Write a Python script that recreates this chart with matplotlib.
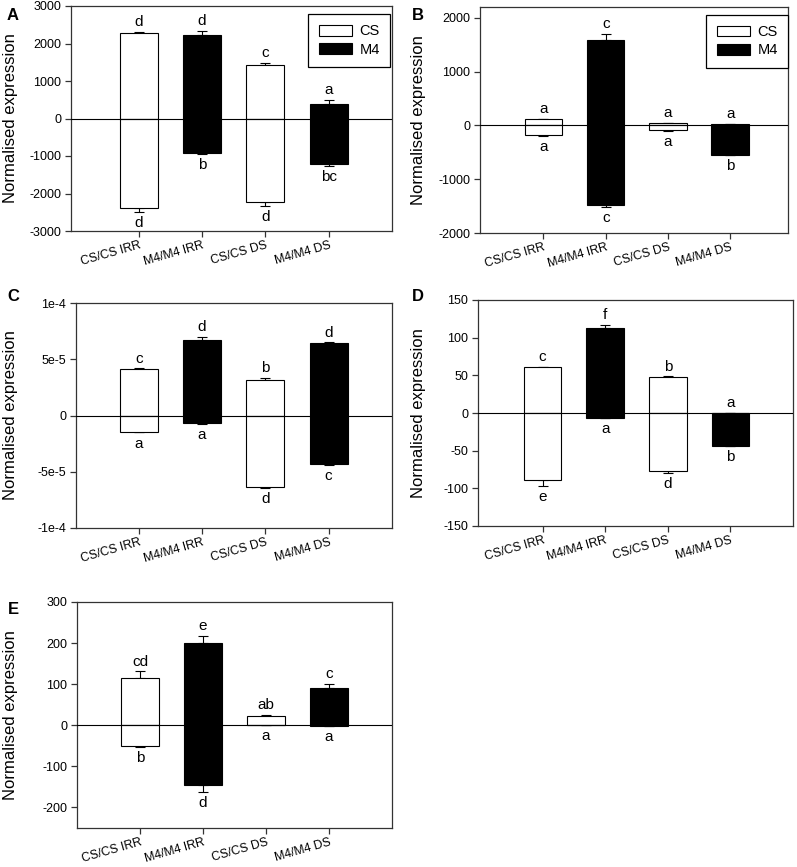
import matplotlib
matplotlib.use('Agg')
import numpy as np
import matplotlib.pyplot as plt
from matplotlib.patches import Patch

plt.rcParams['font.family'] = ['Liberation Sans', 'DejaVu Sans']
plt.rcParams['axes.unicode_minus'] = False

# Categories and groups
categories = ['CS/CS IRR', 'M4/M4 IRR', 'CS/CS DS', 'M4/M4 DS']
bar_colors = ['white', 'black', 'white', 'black']

# Panel A
a_pos = [2285, 2220, 1440, 385]
a_pos_err = [25, 115, 50, 120]
a_neg = [-2395, -930, -2230, -1225]
a_neg_err = [90, 15, 105, 35]
a_top = ['d', 'd', 'c', 'a']
a_bot = ['d', 'b', 'd', 'bc']

# Panel B
b_pos = [118, 1580, 37, 25]
b_pos_err = [5, 120, 5, 3]
b_neg = [-186, -1488, -93, -546]
b_neg_err = [5, 30, 5, 5]
b_top = ['a', 'c', 'a', 'a']
b_bot = ['a', 'c', 'a', 'b']

# Panel C (values in 1e-5)
c_pos = [4.10, 6.67, 3.19, 6.44]
c_pos_err = [0.09, 0.30, 0.15, 0.06]
c_neg = [-1.45, -0.71, -6.35, -4.31]
c_neg_err = [0.05, 0.03, 0.06, 0.06]
c_top = ['c', 'd', 'b', 'd']
c_bot = ['a', 'a', 'd', 'c']

# Panel D
d_pos = [60.4, 113.4, 47.6, 0]
d_pos_err = [0.6, 3.9, 0.9, 0]
d_neg = [-88.7, -6.6, -76.8, -43.7]
d_neg_err = [7.9, 0.4, 2.6, 0.5]
d_top = ['c', 'f', 'b', 'a']
d_bot = ['e', 'a', 'd', 'b']

# Panel E
e_pos = [114.6, 200.8, 23.6, 90.2]
e_pos_err = [16.3, 16.2, 2.4, 10.6]
e_neg = [-49.6, -145.5, 0, -1.5]
e_neg_err = [2.4, 16.3, 0, 0]
e_top = ['cd', 'e', 'ab', 'c']
e_bot = ['b', 'd', 'a', 'a']

W, H = 797, 867
fig = plt.figure(figsize=(W / 100, H / 100), dpi=100)


def add_axes_px(left, top, right, bottom):
    return fig.add_axes([left / W, 1 - bottom / H, (right - left) / W, (bottom - top) / H])


def draw_panel(ax, pos, pos_err, neg, neg_err, top_lab, bot_lab, scale=1.0):
    x = np.arange(len(categories))
    pos = np.array(pos) * scale
    neg = np.array(neg) * scale
    pos_err = np.array(pos_err) * scale
    neg_err = np.array(neg_err) * scale
    zeros = np.zeros(len(x))
    ax.errorbar(x, pos, yerr=[zeros, pos_err], fmt='none', ecolor='black',
                elinewidth=0.8, capsize=3.5, capthick=0.8, zorder=1)
    ax.errorbar(x, neg, yerr=[neg_err, zeros], fmt='none', ecolor='black',
                elinewidth=0.8, capsize=3.5, capthick=0.8, zorder=1)
    ax.bar(x, pos, width=0.6, color=bar_colors, edgecolor='black', linewidth=0.8, zorder=2)
    ax.bar(x, neg, width=0.6, color=bar_colors, edgecolor='black', linewidth=0.8, zorder=2)
    ax.axhline(0, color='black', linewidth=0.8, zorder=3)
    for i in range(len(x)):
        ax.annotate(top_lab[i], (x[i], pos[i] + pos_err[i]), xytext=(0, 2),
                    textcoords='offset points', ha='center', va='bottom', fontsize=11)
        ax.annotate(bot_lab[i], (x[i], neg[i] - neg_err[i]), xytext=(0, -3),
                    textcoords='offset points', ha='center', va='top', fontsize=11)
    ax.set_xticks(x)
    ax.set_xticklabels(categories, rotation=16, ha='right', rotation_mode='anchor', fontsize=8.8)
    for s in ax.spines.values():
        s.set_color('#333333')
        s.set_linewidth(0.9)
    ax.tick_params(axis='both', direction='out', length=4, width=0.9, color='#333333',
                   labelsize=9, pad=3)
    ax.tick_params(axis='x', pad=2, labelsize=8.8)
    ax.set_ylabel('Normalised expression', fontsize=12)


def legend(ax, anchor):
    handles = [Patch(facecolor='white', edgecolor='black', linewidth=0.8, label='CS'),
               Patch(facecolor='black', edgecolor='black', linewidth=0.8, label='M4')]
    lg = ax.legend(handles=handles, loc='upper right', bbox_to_anchor=anchor, fontsize=10.5,
                   fancybox=False, framealpha=1, edgecolor='black', handlelength=2.3,
                   handleheight=0.75, borderpad=0.7, labelspacing=0.3, handletextpad=0.5,
                   borderaxespad=0)
    lg.get_frame().set_linewidth(0.9)


# Panel A
axA = add_axes_px(71, 6, 392, 231)
draw_panel(axA, a_pos, a_pos_err, a_neg, a_neg_err, a_top, a_bot)
axA.set_xlim(-1.07, 4.0)
axA.set_ylim(-3000, 3000)
axA.set_yticks([-3000, -2000, -1000, 0, 1000, 2000, 3000])
axA.yaxis.set_label_coords((18 - 71) / 321, 0.5)
legend(axA, (0.994, 0.964))

# Panel B
axB = add_axes_px(480, 7, 788, 233)
draw_panel(axB, b_pos, b_pos_err, b_neg, b_neg_err, b_top, b_bot)
axB.set_xlim(-1.02, 3.93)
axB.set_ylim(-2000, 2200)
axB.set_yticks([-2000, -1000, 0, 1000, 2000])
axB.yaxis.set_label_coords((426 - 480) / 308, 0.5)
legend(axB, (1.0, 0.965))

# Panel C
axC = add_axes_px(76, 303, 392, 528)
draw_panel(axC, c_pos, c_pos_err, c_neg, c_neg_err, c_top, c_bot, scale=1e-5)
axC.set_xlim(-0.99, 4.0)
axC.set_ylim(-1e-4, 1e-4)
axC.set_yticks([-1e-4, -5e-5, 0, 5e-5, 1e-4])
axC.set_yticklabels(['-1e-4', '-5e-5', '0', '5e-5', '1e-4'])
axC.yaxis.set_label_coords((18 - 76) / 316, 0.5)

# Panel D
axD = add_axes_px(478, 300, 793, 526)
draw_panel(axD, d_pos, d_pos_err, d_neg, d_neg_err, d_top, d_bot)
axD.set_xlim(-1.03, 4.0)
axD.set_ylim(-150, 150)
axD.set_yticks([-150, -100, -50, 0, 50, 100, 150])
axD.yaxis.set_label_coords((426 - 478) / 315, 0.5)

# Panel E
axE = add_axes_px(77, 602, 392, 828)
draw_panel(axE, e_pos, e_pos_err, e_neg, e_neg_err, e_top, e_bot)
axE.set_xlim(-1.0, 4.0)
axE.set_ylim(-250, 300)
axE.set_yticks([-200, -100, 0, 100, 200, 300])
axE.yaxis.set_label_coords((18 - 77) / 315, 0.5)

# Panel letters
for lab, px, py in [('A', 13, 16), ('B', 418, 16), ('C', 13, 297), ('D', 418, 297), ('E', 13, 609)]:
    fig.text(px / W, 1 - py / H, lab, fontsize=12, fontweight='bold', ha='center', va='center')

fig.savefig('out.png', dpi=100)
